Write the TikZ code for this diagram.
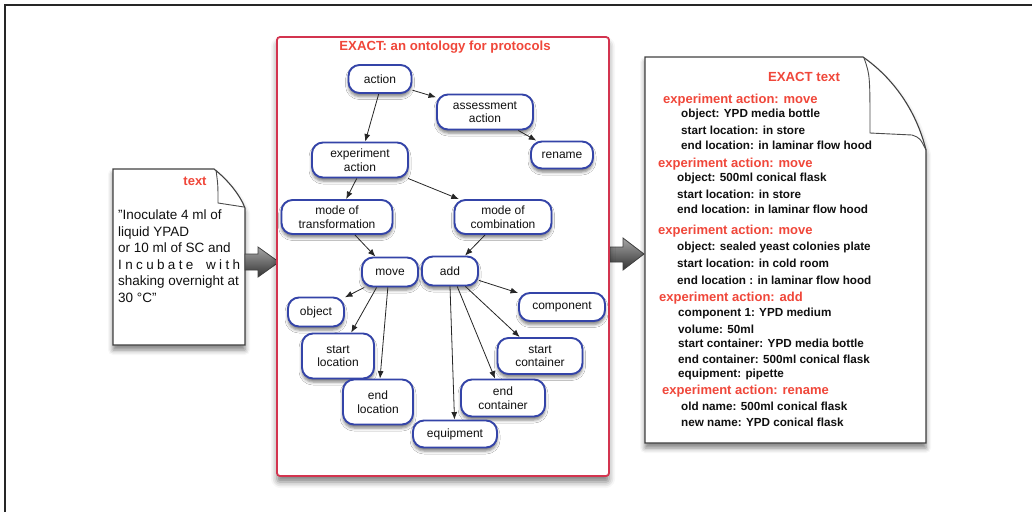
\documentclass[tikz,border=0pt]{standalone}
\usepackage{fontspec}
\setmainfont{Liberation Sans}
\usetikzlibrary{arrows.meta,shadows.blur}

\definecolor{nodeblue}{HTML}{3444A8}
\definecolor{exred}{HTML}{F0473A}
\definecolor{boxred}{HTML}{D3344F}
\definecolor{inkblack}{HTML}{101010}

\begin{document}
\begin{tikzpicture}[x=1pt,y=-1pt,
  softshadow/.style={blur shadow={shadow xshift=0pt, shadow yshift=-3.5pt,
      shadow blur radius=3pt, shadow opacity=50}},
  concept/.style={draw=nodeblue, line width=1.9pt, fill=white,
      rounded corners=11pt, align=center, inner sep=0pt,
      font=\fontsize{12}{13.5}\selectfont, text=inkblack, softshadow},
  sz/.style 2 args={minimum width=#1pt, minimum height=#2pt},
  isa/.style={draw=black!85, line width=0.8pt,
      -{Latex[length=7.5pt,width=6pt]}},
  heading/.style={font=\fontsize{13}{15}\bfseries\selectfont, text=exred,
      inner sep=0pt, anchor=west},
  entry/.style={font=\fontsize{11.7}{14}\bfseries\selectfont, text=inkblack,
      inner sep=0pt, anchor=west},
  paper/.style={draw=black!75, line width=1.1pt, fill=white,
      blur shadow={shadow xshift=0pt, shadow yshift=-5pt,
      shadow blur radius=5pt, shadow opacity=50}},
  fold/.style={draw=black!70, line width=0.9pt},
  flowarrow/.style={top color=black!35, bottom color=black!80,
      draw=black!75, line width=0.8pt}
]
\useasboundingbox (0,0) rectangle (1032,512);

% outer frame (top and left edges)
\draw[line width=1.6pt, black!85] (5,512) -- (5,5) -- (1032,5);

% ---------- source text document ----------
\path[paper] (113,169) -- (214,169)
   .. controls (228,180) and (240,195) .. (245,208)
   -- (245,345) -- (113,345) -- cycle;
\draw[fold] (216,170) .. controls (218,185) .. (218,203) -- (244,207);
\node[font=\fontsize{13}{15}\bfseries\selectfont, text=exred] (srclabel) at (195,181) {text};
\node[font=\fontsize{13.5}{16.5}\selectfont, text=inkblack, align=left,
      anchor=north west, inner sep=0pt] (srctext) at (118,210)
  {"Inoculate 4 ml of\\
   liquid YPAD\\
   or 10 ml of SC and\\
   \hbox to 122pt{I\hfil n\hfil c\hfil u\hfil b\hfil a\hfil t\hfil e\hskip 6pt plus 2fil w\hfil i\hfil t\hfil h}\\
   shaking overnight at\\
   30 °C"};

% ---------- transfer arrows ----------
\shade[flowarrow] (245,254) -- (258,254) -- (258,247) -- (279,262)
   -- (258,277) -- (258,270) -- (245,270) -- cycle;
\shade[flowarrow] (610,247) -- (623,247) -- (623,238) -- (644,254)
   -- (623,270) -- (623,262) -- (610,262) -- cycle;

% ---------- ontology panel ----------
\node[draw=boxred, line width=1.8pt, rounded corners=3pt, fill=white,
      minimum width=332pt, minimum height=439pt, inner sep=0pt,
      blur shadow={shadow xshift=0pt, shadow yshift=-6pt,
      shadow blur radius=6pt, shadow opacity=50}] (ontology) at (443,256.5) {};
\node[font=\fontsize{13.2}{15}\bfseries\selectfont, text=exred] (ontotitle) at (445,47)
  {EXACT: an ontology for protocols};

\node[concept, sz={63}{28}]  (action)    at (380,79)  {action};
\node[concept, sz={96}{35}]  (assess)    at (485,112) {assessment\\action};
\node[concept, sz={62}{27}]  (rename)    at (562,155) {rename};
\node[concept, sz={96}{35}]  (expact)    at (360,160) {experiment\\action};
\node[concept, sz={111}{34}] (modetrans) at (337,217) {mode of\\transformation};
\node[concept, sz={97}{34}]  (modecomb)  at (503,217) {mode of\\combination};
\node[concept, sz={56}{29}]  (move)      at (390,272) {move};
\node[concept, sz={56}{29}]  (add)       at (450,271) {add};
\node[concept, sz={56}{29}]  (object)    at (316,312) {object};
\node[concept, sz={86}{28}]  (component) at (562,307) {component};
\node[concept, sz={72}{45}]  (startloc)  at (338,356) {start\\location};
\node[concept, sz={85}{36}]  (startcont) at (540,356) {start\\container};
\node[concept, sz={70}{45}]  (endloc)    at (378,402) {end\\location};
\node[concept, sz={84}{37}]  (endcont)   at (503,398) {end\\container};
\node[concept, sz={84}{27}]  (equip)     at (455,434) {equipment};

\draw[isa] (action.265)    -- (expact);
\draw[isa] (action.341)    -- (assess);
\draw[isa] (assess.331)    -- (rename);
\draw[isa] (expact.260)    -- (modetrans);
\draw[isa] (expact.339)    -- (modecomb);
\draw[isa] (modetrans.315) -- (move);
\draw[isa] (modecomb.225)  -- (add);
\draw[isa] (move.211)      -- (object);
\draw[isa] (move.229)      -- (startloc);
\draw[isa] (move.262)      -- (endloc);
\draw[isa] (add.342)       -- (component);
\draw[isa] (add.315)       -- (startcont);
\draw[isa] (add.295)       -- (endcont);
\draw[isa] (add.270)       -- (equip);

% ---------- annotated output document ----------
\path[paper] (645,57) -- (863,57)
   .. controls (893,78) and (916,110) .. (926,150)
   -- (926,443) -- (645,443) -- cycle;
\draw[fold] (864,58) .. controls (870,75) .. (870,133) -- (912,135)
   .. controls (920,138) .. (926,150);

\node[font=\fontsize{13.2}{15}\bfseries\selectfont, text=exred] (outlabel) at (804,77) {EXACT text};

\node[heading] (h1)  at (663,100) {experiment action: move};
\node[entry]   (e11) at (681,114) {object: YPD media bottle};
\node[entry]   (e12) at (681,130) {start location: in store};
\node[entry]   (e13) at (681,145) {end location: in laminar flow hood};

\node[heading] (h2)  at (658,164) {experiment action: move};
\node[entry]   (e21) at (677,178) {object: 500ml conical flask};
\node[entry]   (e22) at (677,194) {start location: in store};
\node[entry]   (e23) at (677,209) {end location: in laminar flow hood};

\node[heading] (h3)  at (658,231) {experiment action: move};
\node[entry]   (e31) at (677,247) {object: sealed yeast colonies plate};
\node[entry]   (e32) at (677,263) {start location: in cold room};
\node[entry]   (e33) at (677,280) {end location : in laminar flow hood};

\node[heading] (h4)  at (659,298) {experiment action: add};
\node[entry]   (e41) at (678,313) {component 1: YPD medium};
\node[entry]   (e42) at (678,329) {volume: 50ml};
\node[entry]   (e43) at (678,343) {start container: YPD media bottle};
\node[entry]   (e44) at (678,359) {end container: 500ml conical flask};
\node[entry]   (e45) at (678,374) {equipment: pipette};

\node[heading] (h5)  at (662,391) {experiment action: rename};
\node[entry]   (e51) at (681,406) {old name: 500ml conical flask};
\node[entry]   (e52) at (681,422) {new name: YPD conical flask};
\end{tikzpicture}
\end{document}
